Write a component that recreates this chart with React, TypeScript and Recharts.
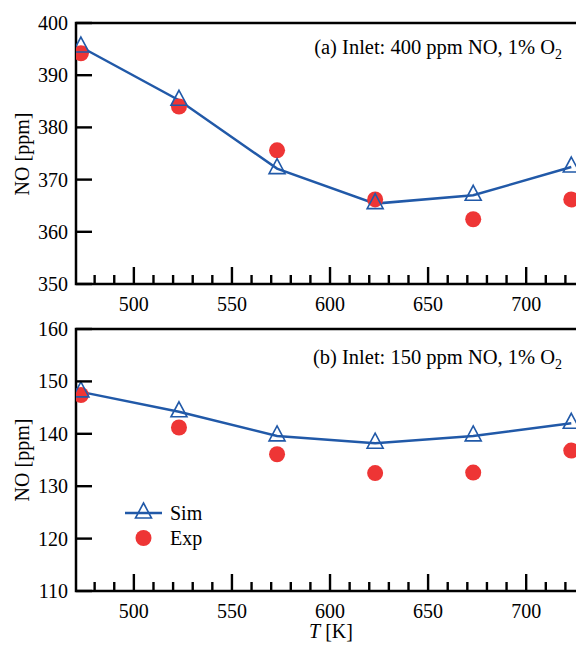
import { ComposedChart, Line, XAxis, YAxis, ReferenceArea, Legend } from "recharts";

const temps = [473, 523, 573, 623, 673, 723];
const simA = [395.4, 385.2, 372.1, 365.4, 367.0, 372.4];
const expA = [394.2, 384.0, 375.6, 366.2, 362.4, 366.2];
const simB = [148.0, 144.2, 139.6, 138.2, 139.6, 142.0];
const expB = [147.4, 141.2, 136.1, 132.5, 132.6, 136.8];

const xTicks = [480, 490, 500, 510, 520, 530, 540, 550, 560, 570, 580, 590, 600, 610, 620, 630, 640, 650, 660, 670, 680, 690, 700, 710, 720, 730];
const yTicksA = [350, 360, 370, 380, 390, 400];
const yTicksB = [110, 120, 130, 140, 150, 160];

const dataA = temps.map((T, i) => ({ T, sim: simA[i], exp: expA[i] }));
const dataB = temps.map((T, i) => ({ T, sim: simB[i], exp: expB[i] }));

const FONT = "'Liberation Serif', 'Times New Roman', serif";
const BLUE = "#2159a8";
const RED = "#ee3535";
const X_DOMAIN = [470.5, 730.5];

function XTick(props: any) {
  const { x, y, payload } = props;
  const major = payload.value % 50 === 0;
  return (
    <g>
      <line x1={x} x2={x} y1={y} y2={y - (major ? 17 : 9)} stroke="#000" strokeWidth={2.4} />
      {major && (
        <text x={x} y={y + 27} textAnchor="middle" fontSize={20} fontFamily={FONT} fill="#000">
          {payload.value}
        </text>
      )}
    </g>
  );
}

function YTick(props: any) {
  const { x, y, payload } = props;
  return (
    <g>
      <line x1={x} x2={x + 16} y1={y} y2={y} stroke="#000" strokeWidth={2.4} />
      <text x={x - 8} y={y + 7} textAnchor="end" fontSize={20} fontFamily={FONT} fill="#000">
        {payload.value}
      </text>
    </g>
  );
}

// triangle drawn around its centroid
function Tri(props: any) {
  const { cx, cy } = props;
  if (cx == null || cy == null) return <g />;
  const w = 8;
  const h = 15;
  return (
    <path
      d={`M${cx},${cy - (2 * h) / 3} L${cx + w},${cy + h / 3} L${cx - w},${cy + h / 3} Z`}
      fill="none"
      stroke={BLUE}
      strokeWidth={1.6}
    />
  );
}

function LegendBox() {
  return (
    <svg width={100} height={52} style={{ display: "block" }}>
      <line x1={5} x2={42} y1={13} y2={13} stroke={BLUE} strokeWidth={2.5} />
      <Tri cx={23.5} cy={13} />
      <circle cx={23.5} cy={38} r={8} fill={RED} />
      <text x={50} y={20} fontSize={20} fontFamily={FONT} fill="#000">Sim</text>
      <text x={50} y={45} fontSize={20} fontFamily={FONT} fill="#000">Exp</text>
    </svg>
  );
}

function Panel(props: { data: any[]; yDomain: number[]; yTicks: number[]; height: number; top: number; xAxisHeight: number; legend?: boolean }) {
  const { data, yDomain, yTicks, height, top, xAxisHeight, legend } = props;
  return (
    <ComposedChart
      width={600}
      height={height}
      data={data}
      margin={{ top, right: 14, bottom: 0, left: 0 }}
    >
      <XAxis
        dataKey="T"
        type="number"
        domain={X_DOMAIN}
        ticks={xTicks}
        interval={0}
        height={xAxisHeight}
        tickSize={0}
        tickMargin={0}
        tickLine={false}
        axisLine={false}
        tick={<XTick />}
        allowDataOverflow
      />
      <YAxis
        type="number"
        domain={yDomain}
        ticks={yTicks}
        interval={0}
        width={76}
        tickSize={0}
        tickMargin={0}
        tickLine={false}
        axisLine={false}
        tick={<YTick />}
        allowDataOverflow
      />
      <ReferenceArea
        x1={X_DOMAIN[0]}
        x2={X_DOMAIN[1]}
        y1={yDomain[0]}
        y2={yDomain[1]}
        fill="none"
        fillOpacity={0}
        stroke="#000"
        strokeWidth={2.5}
      />
      <Line
        dataKey="exp"
        stroke="none"
        strokeWidth={0}
        dot={{ r: 8, fill: RED, stroke: "none" }}
        activeDot={false}
        isAnimationActive={false}
      />
      <Line
        dataKey="sim"
        stroke={BLUE}
        strokeWidth={2.5}
        dot={<Tri />}
        activeDot={false}
        isAnimationActive={false}
      />
      {legend && (
        <Legend
          layout="vertical"
          align="center"
          verticalAlign="middle"
          content={() => <LegendBox />}
          wrapperStyle={{ left: 120, top: 190, width: 100, height: 52 }}
        />
      )}
    </ComposedChart>
  );
}

export default function App() {
  const txt = { fontFamily: FONT, fontSize: 20, fill: "#000" };
  return (
    <div style={{ position: "absolute", left: 0, top: 0, width: 576, height: 645, overflow: "hidden", background: "#fff" }}>
      <div style={{ position: "absolute", left: 0, top: 0 }}>
        <Panel data={dataA} yDomain={[350, 400]} yTicks={yTicksA} height={320} top={23} xAxisHeight={36} />
      </div>
      <div style={{ position: "absolute", left: 0, top: 310 }}>
        <Panel data={dataB} yDomain={[110, 160]} yTicks={yTicksB} height={335} top={19} xAxisHeight={54} legend />
      </div>
      <svg width={576} height={645} style={{ position: "absolute", left: 0, top: 0, pointerEvents: "none" }}>
        <text x={562} y={54} textAnchor="end" {...txt} fontSize={20.5}>
          (a) Inlet: 400 ppm NO, 1% O<tspan fontSize={14} dy={5}>2</tspan>
        </text>
        <text x={562} y={364} textAnchor="end" {...txt} fontSize={20.5}>
          (b) Inlet: 150 ppm NO, 1% O<tspan fontSize={14} dy={5}>2</tspan>
        </text>
        <text x={29} y={154} textAnchor="middle" transform="rotate(-90 29 154)" {...txt}>NO [ppm]</text>
        <text x={29} y={460} textAnchor="middle" transform="rotate(-90 29 460)" {...txt}>NO [ppm]</text>
        <text x={331} y={638} textAnchor="middle" {...txt}>
          <tspan fontStyle="italic">T</tspan> [K]
        </text>
      </svg>
    </div>
  );
}
